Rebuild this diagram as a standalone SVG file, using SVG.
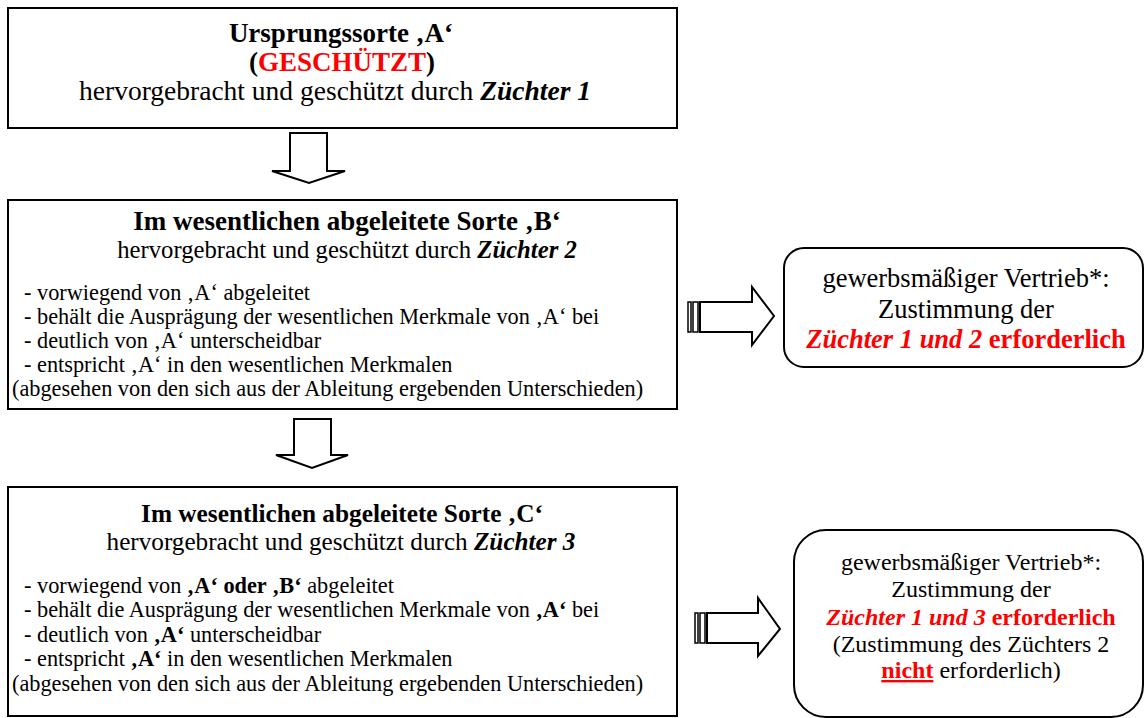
<svg xmlns="http://www.w3.org/2000/svg" width="1144" height="718" viewBox="0 0 1144 718">
<style>
text{font-family:"Liberation Serif","Times New Roman",serif;fill:#000}
.box{fill:#fff;stroke:#000;stroke-width:2}
.arr{fill:#fff;stroke:#000;stroke-width:2;stroke-linejoin:miter}
.bar{fill:#fff;stroke:#000;stroke-width:1.5}
.b{font-weight:bold}
.bi{font-weight:bold;font-style:italic}
.red{fill:#f00}
.c{text-anchor:middle}
</style>
<rect width="1144" height="718" fill="#fff"/>
<g id="connectors">
<polygon class="arr" points="290,133 327,133 327,171 345,171 309,183 272,171 290,171"/>
<polygon class="arr" points="294,419 331,419 331,455 348,455 312,468 276,455 294,455"/>
<g id="arrow-right-1">
<rect class="bar" x="688" y="302" width="3" height="30"/>
<rect class="bar" x="693" y="302" width="5" height="30"/>
<polygon class="arr" points="700,302 752,302 752,287 774,316 752,345 752,332 700,332"/>
</g>
<g id="arrow-right-2">
<rect class="bar" x="695" y="613" width="3" height="30"/>
<rect class="bar" x="700" y="613" width="5" height="30"/>
<polygon class="arr" points="707,613 758,613 758,598 780,629 758,656 758,643 707,643"/>
</g>
</g>
<g id="node-A">
<rect class="box" x="8" y="8" width="669" height="120"/>
<text class="c b" x="341" y="42" font-size="27">Ursprungssorte ‚A‘</text>
<text class="c b" x="342" y="71" font-size="27">(<tspan class="red">GESCHÜTZT</tspan>)</text>
<text class="c" x="335" y="100" font-size="27.5">hervorgebracht und geschützt durch <tspan class="bi">Züchter 1</tspan></text>
</g>
<g id="node-B">
<rect class="box" x="8" y="200" width="669" height="209"/>
<text class="c b" x="347" y="230" font-size="27">Im wesentlichen abgeleitete Sorte ‚B‘</text>
<text class="c" x="347" y="258" font-size="24.7">hervorgebracht und geschützt durch <tspan class="bi">Züchter 2</tspan></text>
<g font-size="22.3">
<text x="24" y="300">- vorwiegend von ‚A‘ abgeleitet</text>
<text x="24" y="324">- behält die Ausprägung der wesentlichen Merkmale von ‚A‘ bei</text>
<text x="24" y="348">- deutlich von ‚A‘ unterscheidbar</text>
<text x="24" y="372">- entspricht ‚A‘ in den wesentlichen Merkmalen</text>
<text x="12" y="396">(abgesehen von den sich aus der Ableitung ergebenden Unterschieden)</text>
</g>
</g>
<g id="node-C">
<rect class="box" x="8" y="487" width="669" height="229"/>
<text class="c b" x="342" y="522" font-size="25.3">Im wesentlichen abgeleitete Sorte ‚C‘</text>
<text class="c" x="341" y="550" font-size="25.2">hervorgebracht und geschützt durch <tspan class="bi">Züchter 3</tspan></text>
<g font-size="22.3">
<text x="24" y="593">- vorwiegend von <tspan class="b">‚A‘ oder ‚B‘</tspan> abgeleitet</text>
<text x="24" y="617">- behält die Ausprägung der wesentlichen Merkmale von <tspan class="b">‚A‘</tspan> bei</text>
<text x="24" y="642">- deutlich von <tspan class="b">‚A‘</tspan> unterscheidbar</text>
<text x="24" y="666">- entspricht <tspan class="b">‚A‘</tspan> in den wesentlichen Merkmalen</text>
<text x="12" y="691">(abgesehen von den sich aus der Ableitung ergebenden Unterschieden)</text>
</g>
</g>
<g id="node-consent-1">
<rect class="box" x="784" y="248" width="359" height="119" rx="20" ry="20"/>
<g font-size="26.5">
<text class="c" x="966" y="287">gewerbsmäßiger Vertrieb*:</text>
<text class="c" x="966" y="318">Zustimmung der</text>
<text class="c b red" x="966" y="348"><tspan class="bi">Züchter 1 und 2</tspan> erforderlich</text>
</g>
</g>
<g id="node-consent-2">
<rect class="box" x="794" y="530" width="349" height="187" rx="32" ry="32"/>
<g font-size="24">
<text class="c" x="971" y="570">gewerbsmäßiger Vertrieb*:</text>
<text class="c" x="971" y="597">Zustimmung der</text>
<text class="c b red" x="971" y="625"><tspan class="bi">Züchter 1 und 3</tspan> erforderlich</text>
<text class="c" x="971" y="652">(Zustimmung des Züchters 2</text>
<text class="c" x="971" y="678"><tspan class="b red" text-decoration="underline">nicht</tspan> erforderlich)</text>
</g>
</g>
</svg>
